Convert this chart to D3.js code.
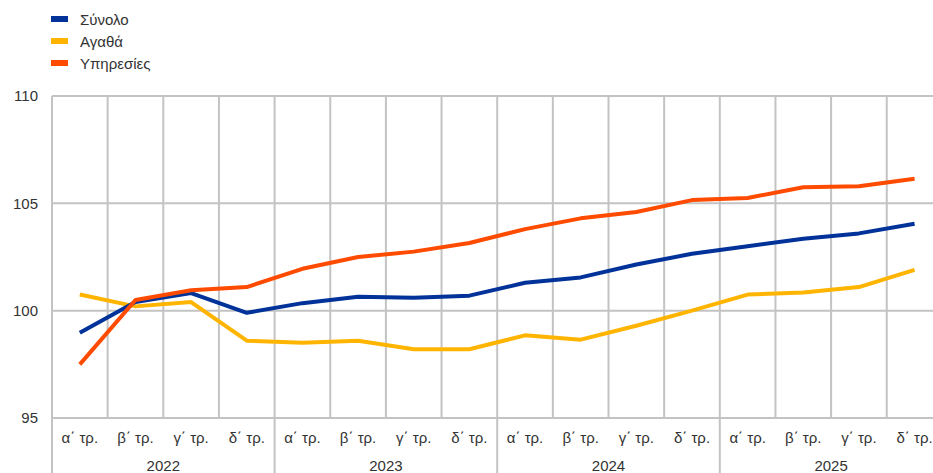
<!DOCTYPE html>
<html>
<head>
<meta charset="utf-8">
<script src="https://cdn.jsdelivr.net/npm/d3@7"></script>
<style>
  html, body { margin: 0; padding: 0; background: #fff; }
  svg { display: block; font-family: "Liberation Sans", Arial, sans-serif; }
</style>
</head>
<body>
<svg id="chart" width="933" height="473"></svg>
<script>
// Quarterly index values, 2022 = 100
const years = ["2022", "2023", "2024", "2025"];
const quarters = ["α΄ τρ.", "β΄ τρ.", "γ΄ τρ.", "δ΄ τρ."];
const seriesNames = ["Σύνολο", "Αγαθά", "Υπηρεσίες"];
const seriesColors = ["#003299", "#ffb400", "#ff4b00"];
const totalValues = [98.97, 100.4, 100.82, 99.9, 100.35, 100.65, 100.6, 100.7, 101.3, 101.55, 102.15, 102.65, 103.0, 103.35, 103.6, 104.05];
const goodsValues = [100.75, 100.2, 100.4, 98.6, 98.5, 98.6, 98.2, 98.2, 98.85, 98.65, 99.3, 100.0, 100.75, 100.85, 101.1, 101.9];
const servicesValues = [97.5, 100.5, 100.95, 101.1, 101.95, 102.5, 102.75, 103.15, 103.8, 104.3, 104.6, 105.15, 105.25, 105.75, 105.8, 106.15];
const yTicks = [95, 100, 105, 110];

const svg = d3.select("#chart");
const margin = { left: 52, top: 96, bottom: 418 };
const fontSize = 15;
const textColor = "#333";
const periods = years.flatMap(y => quarters.map(q => y + "|" + q));

const x = d3.scaleBand().domain(periods).range([margin.left, margin.left + 16 * 55.65]).padding(0);
const y = d3.scaleLinear().domain([95, 110]).range([margin.bottom, margin.top]);

const grid = svg.append("g").attr("stroke", "#c3c3c3").attr("stroke-width", 2);

// horizontal gridlines
grid.selectAll("line.h").data(yTicks).join("line")
  .attr("x1", margin.left).attr("x2", 933)
  .attr("y1", d => y(d)).attr("y2", d => y(d));

// vertical gridlines at every quarter boundary; year boundaries run down through the labels
grid.selectAll("line.v").data(periods).join("line")
  .attr("x1", d => x(d)).attr("x2", d => x(d))
  .attr("y1", margin.top)
  .attr("y2", (d, i) => i % 4 === 0 ? 473 : margin.bottom);

// y axis labels
const yAxis = d3.axisLeft(y).tickValues(yTicks).tickSize(0).tickPadding(14);
svg.append("g").attr("transform", `translate(${margin.left},0)`).call(yAxis)
  .call(g => g.select(".domain").remove())
  .call(g => g.selectAll("text").attr("font-size", fontSize).attr("fill", textColor)
    .attr("font-family", "'Liberation Sans', Arial, sans-serif"));

// quarter labels
const xAxis = d3.axisBottom(x).tickSize(0).tickPadding(14).tickFormat(d => d.split("|")[1]);
svg.append("g").attr("transform", `translate(0,${margin.bottom})`).call(xAxis)
  .call(g => g.select(".domain").remove())
  .call(g => g.selectAll("text").attr("font-size", fontSize).attr("fill", textColor)
    .attr("font-family", "'Liberation Sans', Arial, sans-serif"));

// year labels
svg.append("g").selectAll("text").data(years).join("text")
  .attr("x", d => (x(d + "|" + quarters[0]) + x(d + "|" + quarters[3]) + x.bandwidth()) / 2)
  .attr("y", 471)
  .attr("text-anchor", "middle")
  .attr("font-size", fontSize).attr("fill", textColor)
  .text(d => d);

// lines
const allSeries = [totalValues, goodsValues, servicesValues];
const line = d3.line()
  .x((d, i) => x(periods[i]) + x.bandwidth() / 2)
  .y(d => y(d));

// draw goods first, then total, then services on top
[1, 0, 2].forEach(k => {
  svg.append("path")
    .datum(allSeries[k])
    .attr("fill", "none")
    .attr("stroke", seriesColors[k])
    .attr("stroke-width", 4)
    .attr("stroke-linejoin", "round")
    .attr("d", line);
});

// legend
const legend = svg.append("g").selectAll("g").data(seriesNames).join("g")
  .attr("transform", (d, i) => `translate(51,${19 + i * 22})`);
legend.append("rect").attr("x", 0).attr("y", -3).attr("width", 17).attr("height", 6)
  .attr("fill", (d, i) => seriesColors[i]);
legend.append("text").attr("x", 29).attr("y", 5.5).attr("font-size", fontSize).attr("fill", textColor)
  .text(d => d);
</script>
</body>
</html>
